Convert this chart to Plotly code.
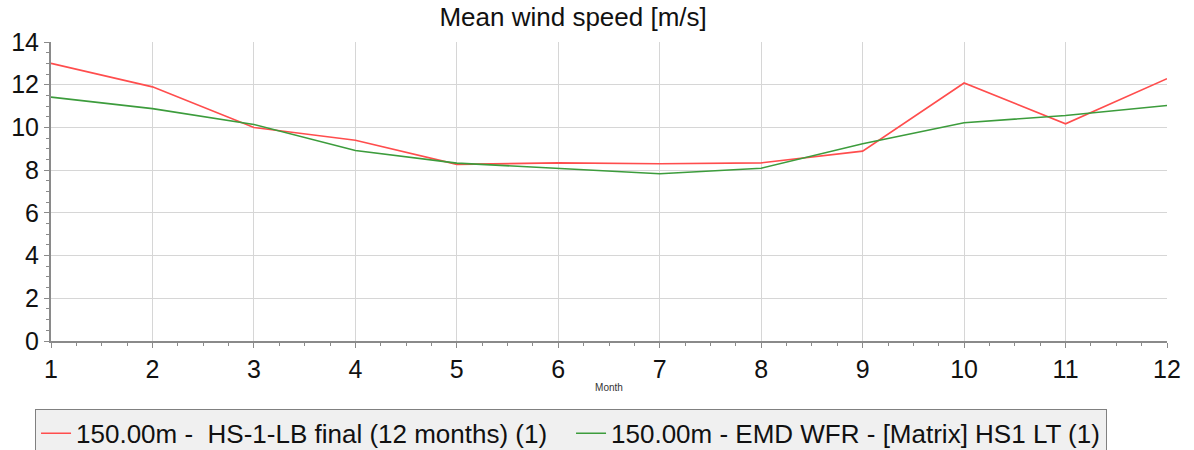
import plotly.graph_objects as go

# Monthly mean wind speed at 150 m for two data sources
months = [1, 2, 3, 4, 5, 6, 7, 8, 9, 10, 11, 12]
hs1_lb_final = [13.0, 11.9, 10.0, 9.4, 8.27, 8.34, 8.30, 8.34, 8.89, 12.08, 10.17, 12.28]
emd_wfr_matrix = [11.42, 10.88, 10.14, 8.92, 8.33, 8.09, 7.83, 8.09, 9.24, 10.22, 10.56, 11.03]

series_names = [
    "150.00m -\u00a0 HS-1-LB final (12 months) (1)",
    "150.00m - EMD WFR - [Matrix] HS1 LT (1)",
]
series_colors = ["#ff4d4d", "#3c9c3c"]

FONT = "Liberation Sans, Arial, sans-serif"

fig = go.Figure()
for name, values, color in zip(series_names, [hs1_lb_final, emd_wfr_matrix], series_colors):
    fig.add_trace(go.Scatter(
        x=months, y=values, mode="lines", name=name,
        line=dict(color=color, width=1.6),
        hoverinfo="x+y",
    ))

fig.update_layout(
    width=1194, height=450,
    margin=dict(l=51, r=27, t=42, b=109, autoexpand=False),
    paper_bgcolor="white", plot_bgcolor="white",
    font=dict(family=FONT, color="#111111"),
    title=dict(
        text="Mean wind speed [m/s]",
        x=0.48, xanchor="center", y=0.962, yanchor="middle",
        font=dict(size=26, family=FONT, color="#111111"),
    ),
    showlegend=True,
    legend=dict(
        orientation="h",
        x=-0.0143, xanchor="left",
        y=-0.227, yanchor="top",
        bgcolor="#f0f0f0", bordercolor="#808080", borderwidth=1,
        font=dict(size=26, family=FONT, color="#111111"),
        entrywidth=490, entrywidthmode="pixels",
        itemwidth=30,
    ),
)

fig.update_xaxes(
    range=[1, 12], tickmode="linear", tick0=1, dtick=1,
    showgrid=True, gridcolor="#d6d6d6", gridwidth=1.3,
    showline=True, linecolor="#8a8a8a", linewidth=2,
    ticks="outside", ticklen=5, tickcolor="#8a8a8a", tickwidth=1,
    tickfont=dict(size=25, family=FONT, color="#111111"),
    minor=dict(ticks="outside", dtick=0.25, tick0=1, ticklen=3,
               tickcolor="#8a8a8a", showgrid=False),
    zeroline=False,
    title=dict(text="Month", font=dict(size=10, family=FONT, color="#333333"), standoff=2),
)

fig.update_yaxes(
    range=[0, 14], tickmode="linear", tick0=0, dtick=2,
    showgrid=True, gridcolor="#d6d6d6", gridwidth=1.3,
    showline=True, linecolor="#8a8a8a", linewidth=2,
    ticks="outside", ticklen=5, tickcolor="#8a8a8a", tickwidth=1,
    tickfont=dict(size=25, family=FONT, color="#111111"),
    minor=dict(ticks="outside", dtick=0.5, tick0=0, ticklen=3,
               tickcolor="#8a8a8a", showgrid=False),
    zeroline=False,
)

fig.write_html("out.html")
